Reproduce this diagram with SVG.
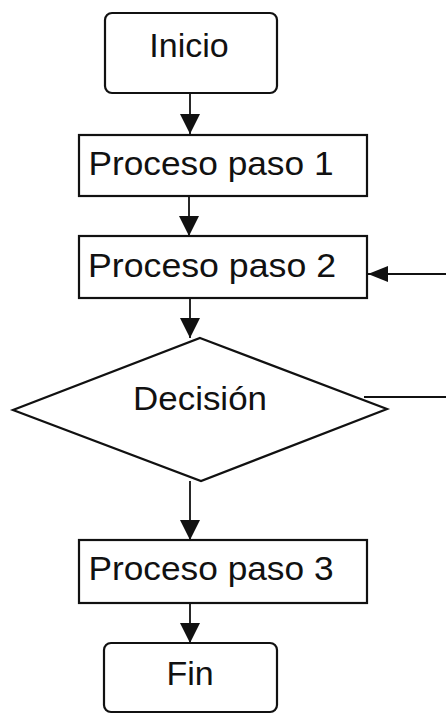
<svg xmlns="http://www.w3.org/2000/svg" width="446" height="720" viewBox="0 0 446 720">
  <style>
    .shape { fill: #ffffff; stroke: #111111; stroke-width: 2.2; }
    .label { font-family: "Liberation Sans", Arial, sans-serif; font-size: 34px; fill: #111111; text-anchor: middle; }
    .link { fill: none; stroke: #111111; stroke-width: 1.8; }
  </style>
  <defs>
    <marker id="arrow" viewBox="0 0 20 20" refX="20" refY="10" markerWidth="20" markerHeight="20" markerUnits="userSpaceOnUse" orient="auto">
      <path d="M0,0 L20,10 L0,20 z" fill="#111111"/>
    </marker>
    <marker id="arrow-side" viewBox="0 0 20 16" refX="20" refY="8" markerWidth="20" markerHeight="16" markerUnits="userSpaceOnUse" orient="auto">
      <path d="M0,0 L20,8 L0,16 z" fill="#111111"/>
    </marker>
  </defs>
  <rect width="446" height="720" fill="#ffffff"/>

  <g id="connectors">
    <line class="link" x1="190" y1="93" x2="190" y2="134" marker-end="url(#arrow)"/>
    <line class="link" x1="189" y1="196" x2="189" y2="236" marker-end="url(#arrow)"/>
    <line class="link" x1="190" y1="298" x2="190" y2="338" marker-end="url(#arrow)"/>
    <line class="link" x1="190" y1="481" x2="190" y2="540" marker-end="url(#arrow)"/>
    <line class="link" x1="190" y1="603" x2="190" y2="643" marker-end="url(#arrow)"/>
    <line class="link" x1="364" y1="397" x2="446" y2="397"/>
    <line class="link" x1="446" y1="274" x2="368" y2="274" marker-end="url(#arrow-side)"/>
  </g>

  <g id="inicio">
    <rect class="shape" x="105" y="13" width="172" height="80" rx="7"/>
    <text class="label" x="189" y="57">Inicio</text>
  </g>

  <g id="paso1">
    <rect class="shape" x="79" y="135" width="288" height="61"/>
    <text class="label" x="211" y="175" textLength="245" lengthAdjust="spacingAndGlyphs">Proceso paso 1</text>
  </g>

  <g id="paso2">
    <rect class="shape" x="79" y="236" width="288" height="62"/>
    <text class="label" x="212" y="277" textLength="248" lengthAdjust="spacingAndGlyphs">Proceso paso 2</text>
  </g>

  <g id="decision">
    <polygon class="shape" points="200,338 387,409 201,481 13,410"/>
    <text class="label" x="200" y="410" textLength="134" lengthAdjust="spacingAndGlyphs">Decisión</text>
  </g>

  <g id="paso3">
    <rect class="shape" x="79" y="540" width="288" height="63"/>
    <text class="label" x="211" y="580" textLength="245" lengthAdjust="spacingAndGlyphs">Proceso paso 3</text>
  </g>

  <g id="fin">
    <rect class="shape" x="104" y="643" width="173" height="69" rx="7"/>
    <text class="label" x="190" y="685">Fin</text>
  </g>
</svg>
